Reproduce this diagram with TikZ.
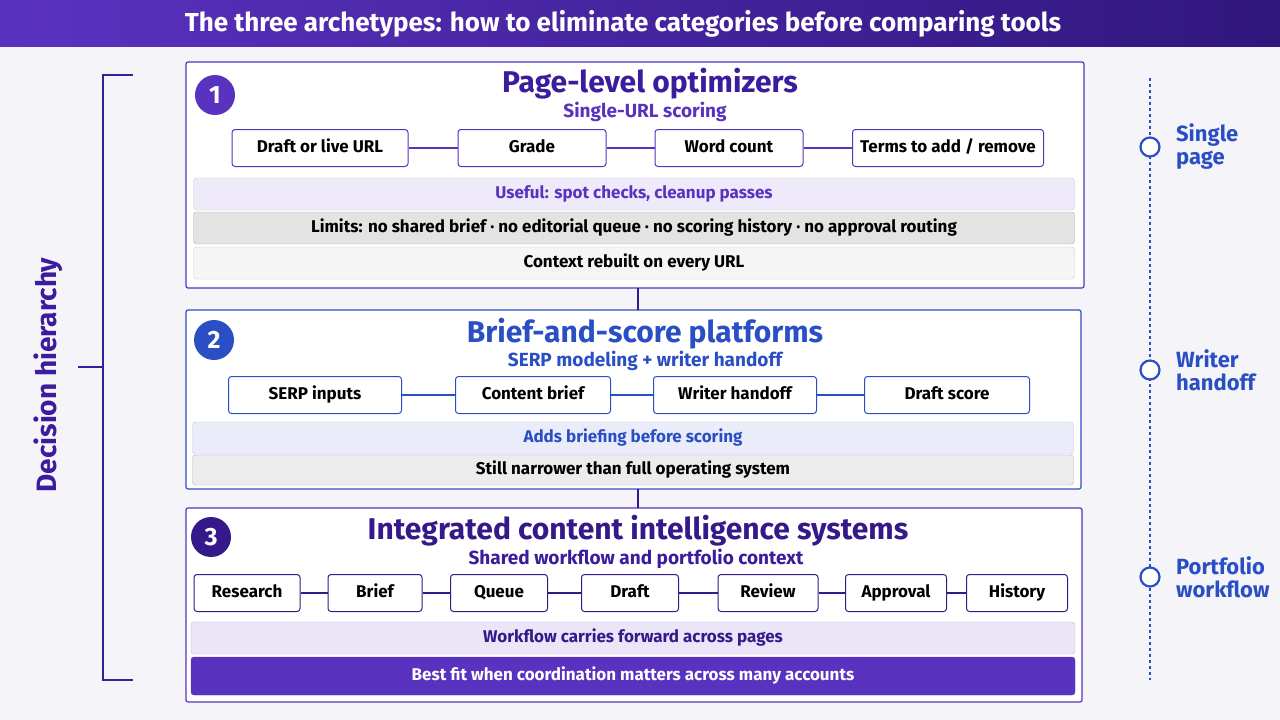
\documentclass[tikz,border=0pt]{standalone}
\usepackage{fontspec}
\setmainfont{Fira Sans}
\usetikzlibrary{positioning}
\definecolor{ink}{HTML}{3B1C9C}
\definecolor{deep}{HTML}{35198A}
\definecolor{royal}{HTML}{2A4FC4}
\definecolor{band}{HTML}{5A32C0}
\definecolor{paper}{HTML}{F5F5F9}
\tikzset{
  panel/.style={draw=#1, line width=1.2pt, fill=white, rounded corners=2pt},
  step/.style={draw=#1, line width=1pt, fill=white, rounded corners=3pt,
    minimum height=37pt, text height=12pt, text depth=3pt,
    font=\fontsize{17}{19}\selectfont\bfseries},
  strip/.style={draw=gray!40, rounded corners=3pt, minimum width=881pt,
    minimum height=32pt, text height=12pt, text depth=3pt,
    font=\fontsize{17}{19}\selectfont\bfseries},
  badge/.style={circle, fill=#1, text=white, minimum size=40pt,
    font=\fontsize{25}{27}\selectfont\bfseries},
  head/.style={text=#1, font=\fontsize{30}{32}\selectfont\bfseries},
  sub/.style={text=#1, font=\fontsize{19}{21}\selectfont\bfseries},
  link/.style={draw=#1, line width=1.2pt},
  side/.style={text=royal, align=left, anchor=west,
    font=\fontsize{22}{23}\selectfont\bfseries},
  pin/.style={circle, draw=royal, line width=2.2pt, fill=white, minimum size=19pt, inner sep=0pt},
}
\begin{document}
\begin{tikzpicture}[x=1pt, y=-1pt]
  \useasboundingbox (0,0) rectangle (1280,720);
  \fill[paper] (0,0) rectangle (1280,720);
  \shade[left color=band, right color=deep!90!black] (0,0) rectangle (1280,46);
  \node[text=white, font=\fontsize{26}{28}\selectfont\bfseries] (title) at (623,24)
    {The three archetypes: how to eliminate categories before comparing tools};

  % decision bracket
  \coordinate (bt) at (133,75);
  \coordinate (bb) at (133,680);
  \draw[ink, line width=1.5pt] (bt) -- (103,75) -- (103,680) -- (bb)
    (103,367) -- (78,367);
  \node[rotate=90, text=ink, font=\fontsize{28}{30}\selectfont\bfseries] (hier) at (48,375) {Decision hierarchy};

  % scale on the right
  \coordinate (st) at (1150,78);
  \coordinate (sb) at (1150,680);
  \draw[royal, line width=1.2pt, dash pattern=on 3pt off 3pt] (st) -- (sb);
  \node[pin] (m1) at (1150,147) {};
  \node[pin] (m2) at (1150,370) {};
  \node[pin] (m3) at (1150,577) {};
  \node[side, right=12pt of m1] {Single\\page};
  \node[side, right=12pt of m2] {Writer\\handoff};
  \node[side, right=12pt of m3] {Portfolio\\workflow};

  % tier 1
  \draw[panel=band] (186,62) rectangle (1084,288);
  \coordinate (p1b) at (638,288);
  \node[badge=band] (n1) at (215,95) {1};
  \node[head=ink] (h1) at (650,84) {Page-level optimizers};
  \node[sub=band] (s1) at (645,112) {Single-URL scoring};
  \node[step=band, minimum width=176pt] (a1) at (320,148) {Draft or live URL};
  \node[step=band, minimum width=148pt] (a2) at (532,148) {Grade};
  \node[step=band, minimum width=148pt] (a3) at (729,148) {Word count};
  \node[step=band, minimum width=191pt] (a4) at (948,148) {Terms to add / remove};
  \draw[link=band] (a1) -- (a2) (a2) -- (a3) (a3) -- (a4);
  \node[strip, fill=band!10, text=band] (u1) at (634,194) {Useful: spot checks, cleanup passes};
  \node[strip, fill=gray!22, draw=gray!60] (l1) at (634,228) {Limits: no shared brief · no editorial queue · no scoring history · no approval routing};
  \node[strip, fill=gray!8] (c1) at (634,263) {Context rebuilt on every URL};

  % tier 2
  \draw[panel=royal] (186,310) rectangle (1081,489);
  \coordinate (p2t) at (638,310);
  \coordinate (p2b) at (638,489);
  \node[badge=royal] (n2) at (214,340) {2};
  \node[head=royal] (h2) at (645,334) {Brief-and-score platforms};
  \node[sub=royal] (s2) at (645,361) {SERP modeling + writer handoff};
  \node[step=royal, minimum width=173pt] (b1) at (315,395) {SERP inputs};
  \node[step=royal, minimum width=155pt] (b2) at (533,395) {Content brief};
  \node[step=royal, minimum width=163pt] (b3) at (735,395) {Writer handoff};
  \node[step=royal, minimum width=165pt] (b4) at (947,395) {Draft score};
  \draw[link=royal] (b1) -- (b2) (b2) -- (b3) (b3) -- (b4);
  \node[strip, fill=royal!10, draw=royal!30, text=royal] (u2) at (633,438) {Adds briefing before scoring};
  \node[strip, fill=gray!15, draw=gray!60, minimum height=30pt] (l2) at (633,470) {Still narrower than full operating system};

  % tier 3
  \draw[panel=band] (186,508) rectangle (1082,702);
  \coordinate (p3t) at (638,508);
  \node[badge=deep] (n3) at (211,537) {3};
  \node[head=deep] (h3) at (638,531) {Integrated content intelligence systems};
  \node[sub=ink] (s3) at (636,559) {Shared workflow and portfolio context};
  \node[step=deep, minimum width=106pt] (c31) at (247,593) {Research};
  \node[step=deep, minimum width=94pt] (c32) at (375,593) {Brief};
  \node[step=deep, minimum width=97pt] (c33) at (499,593) {Queue};
  \node[step=deep, minimum width=97pt] (c34) at (630,593) {Draft};
  \node[step=deep, minimum width=100pt] (c35) at (768,593) {Review};
  \node[step=deep, minimum width=101pt] (c36) at (896,593) {Approval};
  \node[step=deep, minimum width=101pt] (c37) at (1017,593) {History};
  \draw[link=deep] (c31) -- (c32) (c32) -- (c33) (c33) -- (c34) (c34) -- (c35)
    (c35) -- (c36) (c36) -- (c37);
  \node[strip, fill=band!12, draw=band!40, text=deep, minimum width=884pt] (u3) at (633,638) {Workflow carries forward across pages};
  \node[strip, fill=band, draw=band, text=white, minimum width=884pt, minimum height=38pt] (b3x) at (633,676) {Best fit when coordination matters across many accounts};

  % tier links
  \draw[link=deep, line width=2pt] (p1b) -- (p2t) (p2b) -- (p3t);
\end{tikzpicture}
\end{document}
